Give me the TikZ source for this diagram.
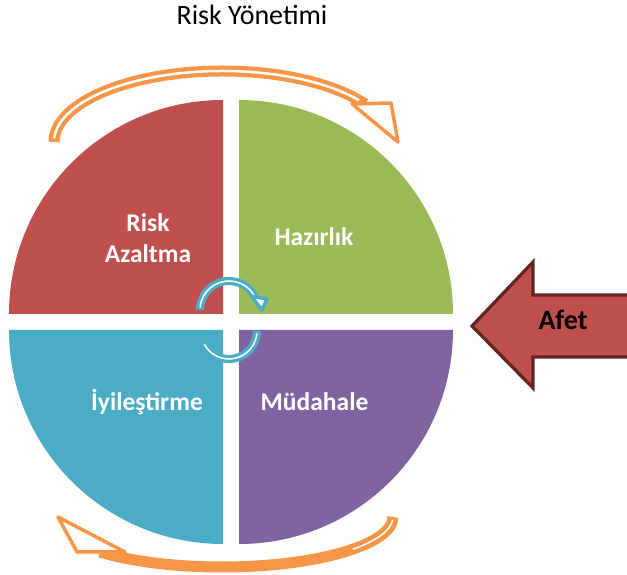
\documentclass[tikz,border=0pt]{standalone}
\usepackage{fontspec}
\setmainfont{Carlito}
\definecolor{riskred}{HTML}{C0504D}
\definecolor{hazgreen}{HTML}{9BBB59}
\definecolor{iyicyan}{HTML}{4BACC6}
\definecolor{mudpurple}{HTML}{8064A2}
\definecolor{cycorange}{HTML}{F79646}
\definecolor{afetborder}{HTML}{632523}

\begin{document}
\begin{tikzpicture}[x=1pt,y=1pt,
    phase/.style={text=white,font=\fontsize{25.5}{31}\selectfont\bfseries,align=center},
    bigband/.style={cycorange,line width=11pt},
    smallband/.style={iyicyan,line width=8pt},
    bighead/.style={draw=cycorange,fill=white,line width=3.5pt,line join=round},
    smallhead/.style={draw=iyicyan,fill=white,line width=3.5pt,line join=round}]
    \useasboundingbox (0,0) rectangle (627,575);
    \clip (0,0) rectangle (627,575);

    % Title
    \node[anchor=base,font=\fontsize{28}{32}\selectfont] (title) at (252,550) {Risk Yönetimi};

    % Four quadrants
    \fill[riskred] (223,261) -- (9,261) arc[start angle=180,end angle=90,radius=214] -- cycle;
    \fill[hazgreen] (239,261) -- (239,475) arc[start angle=90,end angle=0,radius=214] -- cycle;
    \fill[mudpurple] (239,245) -- (453,245) arc[start angle=0,end angle=-90,radius=214] -- cycle;
    \fill[iyicyan] (223,245) -- (223,31) arc[start angle=-90,end angle=-180,radius=214] -- cycle;

    % Outer cycle arrows
    \coordinate (topc) at (222.6,433);
    \coordinate (botc) at (222,58);
    \draw[bigband] ([shift={(topc)}]180:168.6 and 71) arc[start angle=180,end angle=32.3,x radius=168.6,y radius=71];
    \draw[white,line width=2.5pt] ([shift={(topc)}]177:168.6 and 71) arc[start angle=177,end angle=36,x radius=168.6,y radius=71];
    \draw[bighead] (352,471) -- (391,472) -- (398,433) -- cycle;
    \draw[bigband] ([shift={(botc)}]0:171 and 50) arc[start angle=0,end angle=-135.6,x radius=171,y radius=50];
    \draw[white,line width=1.5pt] ([shift={(botc)}]-3:171 and 50) arc[start angle=-3,end angle=-40,x radius=171,y radius=50];
    \draw[bighead] (58,58) -- (77,23) -- (125,23) -- cycle;

    % Inner cycle arrows
    \coordinate (upc) at (229,265);
    \coordinate (loc) at (229,244);
    \draw[smallband] ([shift={(upc)}]180:29) arc[start angle=180,end angle=25,radius=29];
    \draw[white,line width=1.5pt] ([shift={(upc)}]175:29) arc[start angle=175,end angle=30,radius=29];
    \draw[smallhead] (251,279) -- (267,276) -- (262,265) -- cycle;
    \draw[smallband] ([shift={(loc)}]0:28) arc[start angle=0,end angle=-158,radius=28];
    \draw[white,line width=1.5pt] ([shift={(loc)}]-5:28) arc[start angle=-5,end angle=-160,radius=28];
    \draw[smallhead] (200,237) -- (201,232) -- (206,233) -- cycle;

    % Phase labels
    \node[phase] (riskaz) at (148,337) {Risk\\Azaltma};
    \node[phase,anchor=base] (hazirlik) at (314,329) {Hazırlık};
    \node[phase,anchor=base] (iyiles) at (147,164) {İyileştirme};
    \node[phase,anchor=base] (mudahale) at (314.5,164) {Müdahale};

    % Disaster arrow
    \filldraw[fill=riskred,draw=afetborder,line width=3.2pt] (472,249) -- (533,313) -- (533,280) -- (640,280) -- (640,218) -- (533,218) -- (533,187) -- cycle;
    \node[anchor=base,font=\fontsize{28}{32}\selectfont\bfseries] (afet) at (563,245) {Afet};
\end{tikzpicture}
\end{document}
